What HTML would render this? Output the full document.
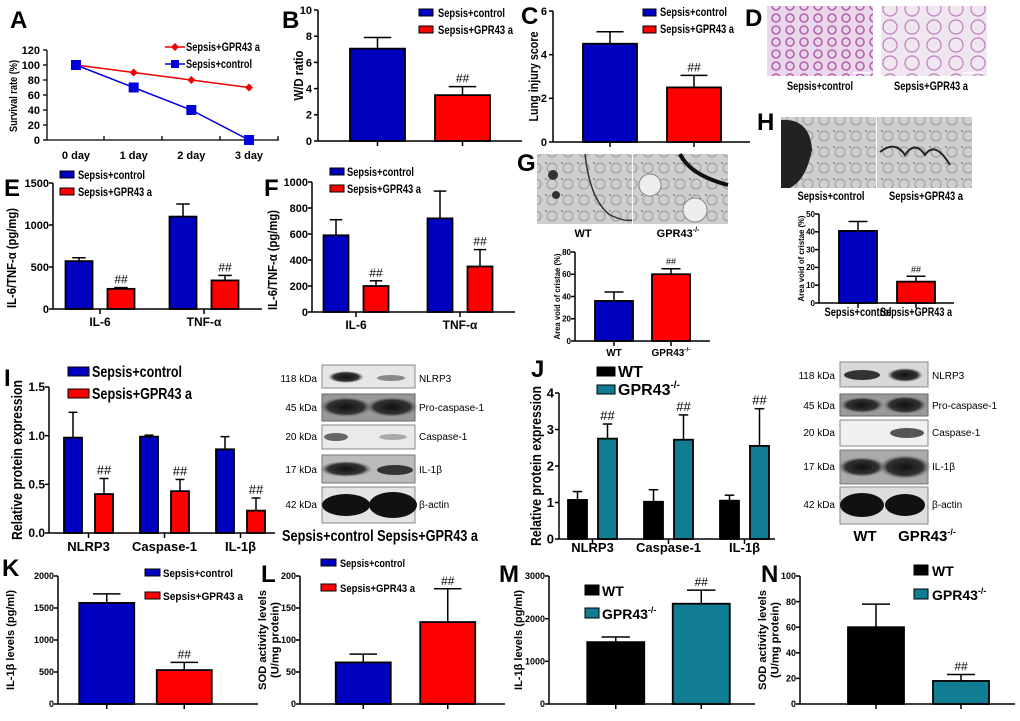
<!DOCTYPE html>
<html><head><meta charset="utf-8">
<style>
html,body{margin:0;padding:0;background:#fff;}
svg{display:block;font-family:"Liberation Sans",Arial,sans-serif;}
.b{font-weight:bold;}
</style></head>
<body>
<svg id="fig" width="1020" height="721" viewBox="0 0 1020 721">
<defs>
<pattern id="lung" width="14" height="12" patternUnits="userSpaceOnUse"><rect width="14" height="12" fill="#e8d8ea"/><circle cx="6" cy="6" r="4" fill="none" stroke="#b860b0" stroke-width="1.6"/></pattern>
<pattern id="lung2" width="22" height="18" patternUnits="userSpaceOnUse"><rect width="22" height="18" fill="#efe6f0"/><circle cx="10" cy="9" r="7" fill="none" stroke="#c080c0" stroke-width="1.2"/></pattern>
<pattern id="em" width="16" height="16" patternUnits="userSpaceOnUse"><rect width="16" height="16" fill="#cfcfcf"/><circle cx="8" cy="8" r="5" fill="none" stroke="#999" stroke-width="1"/><circle cx="2" cy="3" r="1" fill="#888"/></pattern>
<radialGradient id="band"><stop offset="0" stop-color="#111"/><stop offset="0.7" stop-color="#333"/><stop offset="1" stop-color="#777" stop-opacity="0"/></radialGradient>
</defs>

<g class="b" font-size="24">
<text x="10" y="28">A</text>
<text x="282" y="28">B</text>
<text x="521" y="24">C</text>
<text x="745" y="26">D</text>
<text x="4" y="196">E</text>
<text x="264" y="196">F</text>
<text x="517" y="171">G</text>
<text x="757" y="130">H</text>
<text x="4" y="386">I</text>
<text x="531" y="377">J</text>
<text x="2" y="576">K</text>
<text x="261" y="582">L</text>
<text x="499" y="582">M</text>
<text x="761" y="582">N</text>
</g>

<g class="b" font-size="12">
<line x1="165" y1="47" x2="185" y2="47" stroke="#e00" stroke-width="1.5"/><path d="M175 43 L179 47 L175 51 L171 47Z" fill="#e00"/>
<text x="186" y="51" textLength="74" lengthAdjust="spacingAndGlyphs">Sepsis+GPR43 a</text>
<line x1="165" y1="64" x2="185" y2="64" stroke="#00d" stroke-width="1.5"/><rect x="171" y="60" width="8" height="8" fill="#00d"/>
<text x="186" y="68" textLength="66" lengthAdjust="spacingAndGlyphs">Sepsis+control</text>
</g>
<g class="b" font-size="12">
<rect x="419" y="9" width="14" height="7" fill="#0000c0" stroke="#000"/><text x="438" y="17" textLength="67" lengthAdjust="spacingAndGlyphs">Sepsis+control</text>
<rect x="419" y="26" width="14" height="7" fill="#f00" stroke="#000"/><text x="438" y="34" textLength="75" lengthAdjust="spacingAndGlyphs">Sepsis+GPR43 a</text>
</g>
<g class="b" font-size="12">
<rect x="643" y="9" width="13" height="7" fill="#0000c0" stroke="#000"/><text x="660" y="16" textLength="67" lengthAdjust="spacingAndGlyphs">Sepsis+control</text>
<rect x="643" y="26" width="13" height="7" fill="#f00" stroke="#000"/><text x="660" y="33" textLength="74" lengthAdjust="spacingAndGlyphs">Sepsis+GPR43 a</text>
</g>
<g class="b" font-size="12">
<rect x="60" y="171" width="14" height="7" fill="#0000c0" stroke="#000"/><text x="78" y="179" textLength="67" lengthAdjust="spacingAndGlyphs">Sepsis+control</text>
<rect x="60" y="188" width="14" height="7" fill="#f00" stroke="#000"/><text x="78" y="196" textLength="74" lengthAdjust="spacingAndGlyphs">Sepsis+GPR43 a</text>
</g>
<g class="b" font-size="12">
<rect x="330" y="168" width="14" height="7" fill="#0000c0" stroke="#000"/><text x="347" y="176" textLength="67" lengthAdjust="spacingAndGlyphs">Sepsis+control</text>
<rect x="330" y="185" width="14" height="7" fill="#f00" stroke="#000"/><text x="347" y="193" textLength="74" lengthAdjust="spacingAndGlyphs">Sepsis+GPR43 a</text>
</g>
<g class="b" font-size="16">
<rect x="68" y="367" width="21" height="9" fill="#0000c0" stroke="#000"/><text x="92" y="377" textLength="90" lengthAdjust="spacingAndGlyphs">Sepsis+control</text>
<rect x="68" y="389" width="21" height="9" fill="#f00" stroke="#000"/><text x="92" y="399" textLength="100" lengthAdjust="spacingAndGlyphs">Sepsis+GPR43 a</text>
</g>
<g class="b" font-size="16">
<rect x="597" y="367" width="18" height="9" fill="#000" stroke="#000"/><text x="618" y="377">WT</text>
<rect x="597" y="385" width="18" height="9" fill="#117d93" stroke="#000"/><text x="618" y="395">GPR43<tspan font-size="10" dy="-7">-/-</tspan></text>
</g>
<g class="b" font-size="11">
<rect x="145" y="569" width="15" height="7" fill="#0000c0" stroke="#000"/><text x="163" y="577" textLength="70" lengthAdjust="spacingAndGlyphs">Sepsis+control</text>
<rect x="145" y="592" width="15" height="7" fill="#f00" stroke="#000"/><text x="163" y="600" textLength="80" lengthAdjust="spacingAndGlyphs">Sepsis+GPR43 a</text>
</g>
<g class="b" font-size="11">
<rect x="321" y="559" width="15" height="7" fill="#0000c0" stroke="#000"/><text x="340" y="567" textLength="65" lengthAdjust="spacingAndGlyphs">Sepsis+control</text>
<rect x="321" y="584" width="15" height="7" fill="#f00" stroke="#000"/><text x="340" y="592" textLength="75" lengthAdjust="spacingAndGlyphs">Sepsis+GPR43 a</text>
</g>
<g class="b" font-size="14">
<rect x="585" y="585" width="14" height="10" fill="#000" stroke="#000"/><text x="602" y="596">WT</text>
<rect x="585" y="608" width="14" height="10" fill="#117d93" stroke="#000"/><text x="602" y="619">GPR43<tspan font-size="9" dy="-6">-/-</tspan></text>
</g>
<g class="b" font-size="14">
<rect x="914" y="565" width="14" height="10" fill="#000" stroke="#000"/><text x="932" y="576">WT</text>
<rect x="914" y="589" width="14" height="10" fill="#117d93" stroke="#000"/><text x="932" y="600">GPR43<tspan font-size="9" dy="-6">-/-</tspan></text>
</g>

<g>
<rect x="767" y="6" width="106" height="70" fill="url(#lung)"/>
<rect x="881" y="6" width="106" height="70" fill="url(#lung2)"/>
<line x1="853" y1="73" x2="871" y2="73" stroke="#fff" stroke-width="1.5"/>
<line x1="963" y1="73" x2="984" y2="73" stroke="#fff" stroke-width="1.5"/>
<text class="b" font-size="12" x="820" y="90" text-anchor="middle" textLength="66" lengthAdjust="spacingAndGlyphs">Sepsis+control</text>
<text class="b" font-size="12" x="931" y="90" text-anchor="middle" textLength="74" lengthAdjust="spacingAndGlyphs">Sepsis+GPR43 a</text>
</g>
<g>
<rect x="537" y="154" width="95" height="70" fill="url(#em)"/>
<rect x="633" y="154" width="95" height="70" fill="url(#em)"/>
<path d="M585 154 Q590 200 610 215 Q625 222 632 220" fill="none" stroke="#333" stroke-width="1.5"/>
<circle cx="553" cy="175" r="5" fill="#333"/><circle cx="556" cy="195" r="4" fill="#333"/>
<path d="M680 154 Q690 175 728 185" fill="none" stroke="#111" stroke-width="4"/>
<circle cx="650" cy="185" r="11" fill="#eee" stroke="#888"/><circle cx="695" cy="210" r="12" fill="#eee" stroke="#888"/>
<text class="b" font-size="11" x="583" y="237" text-anchor="middle">WT</text>
<text class="b" font-size="11" x="678" y="237" text-anchor="middle">GPR43<tspan font-size="7" dy="-5">-/-</tspan></text>
</g>
<g>
<rect x="781" y="117" width="95" height="71" fill="url(#em)"/>
<rect x="877" y="117" width="95" height="71" fill="url(#em)"/>
<path d="M781 120 Q810 118 812 150 Q806 180 790 188 L781 188Z" fill="#222"/>
<path d="M880 152 Q895 140 905 155 Q915 140 925 155 Q935 140 950 165" fill="none" stroke="#222" stroke-width="2"/>
<text class="b" font-size="12" x="831" y="200" text-anchor="middle" textLength="67" lengthAdjust="spacingAndGlyphs">Sepsis+control</text>
<text class="b" font-size="12" x="926" y="200" text-anchor="middle" textLength="74" lengthAdjust="spacingAndGlyphs">Sepsis+GPR43 a</text>
</g>

<g font-size="10">
<rect x="322" y="365" width="93" height="23" fill="#e6e6e6" stroke="#888"/>
<ellipse cx="346" cy="377" rx="18" ry="6" fill="url(#band)"/><ellipse cx="391" cy="378" rx="14" ry="3" fill="#888"/>
<rect x="322" y="394" width="93" height="27" fill="#999" stroke="#666"/>
<ellipse cx="346" cy="407" rx="26" ry="10" fill="url(#band)"/><ellipse cx="392" cy="407" rx="26" ry="10" fill="url(#band)"/>
<rect x="322" y="425" width="93" height="24" fill="#eaeaea" stroke="#888"/>
<ellipse cx="336" cy="437" rx="12" ry="4" fill="#666"/><ellipse cx="393" cy="437" rx="14" ry="3" fill="#aaa"/>
<rect x="322" y="455" width="93" height="28" fill="#bbb" stroke="#777"/>
<ellipse cx="346" cy="469" rx="26" ry="8" fill="url(#band)"/><ellipse cx="395" cy="470" rx="18" ry="5" fill="#333"/>
<rect x="322" y="487" width="93" height="36" fill="#e4e4e4" stroke="#888"/>
<ellipse cx="346" cy="505" rx="24" ry="11" fill="#111"/><ellipse cx="393" cy="505" rx="24" ry="13" fill="#111"/>
<text x="317" y="382" text-anchor="end">118 kDa</text><text x="317" y="411" text-anchor="end">45 kDa</text>
<text x="317" y="440" text-anchor="end">20 kDa</text><text x="317" y="473" text-anchor="end">17 kDa</text>
<text x="317" y="508" text-anchor="end">42 kDa</text>
<text x="419" y="382">NLRP3</text><text x="419" y="411">Pro-caspase-1</text><text x="419" y="440">Caspase-1</text>
<text x="419" y="473">IL-1β</text><text x="419" y="508">β-actin</text>
<text class="b" font-size="16" x="282" y="541" textLength="196" lengthAdjust="spacingAndGlyphs">Sepsis+control  Sepsis+GPR43 a</text>
</g>
<g font-size="10">
<rect x="840" y="362" width="88" height="25" fill="#d8d8d8" stroke="#888"/>
<ellipse cx="862" cy="375" rx="18" ry="5" fill="#333"/><ellipse cx="905" cy="375" rx="18" ry="7" fill="url(#band)"/>
<rect x="840" y="394" width="88" height="22" fill="#999" stroke="#666"/>
<ellipse cx="862" cy="405" rx="22" ry="8" fill="url(#band)"/><ellipse cx="905" cy="405" rx="22" ry="9" fill="url(#band)"/>
<rect x="840" y="420" width="88" height="26" fill="#f0f0f0" stroke="#888"/>
<ellipse cx="907" cy="433" rx="17" ry="5" fill="#555"/>
<rect x="840" y="450" width="88" height="34" fill="#aaa" stroke="#777"/>
<ellipse cx="862" cy="467" rx="24" ry="10" fill="url(#band)"/><ellipse cx="905" cy="467" rx="26" ry="12" fill="url(#band)"/>
<rect x="840" y="487" width="88" height="37" fill="#ddd" stroke="#888"/>
<ellipse cx="862" cy="505" rx="22" ry="12" fill="#111"/><ellipse cx="905" cy="505" rx="20" ry="11" fill="#111"/>
<text x="835" y="379" text-anchor="end">118 kDa</text><text x="835" y="409" text-anchor="end">45 kDa</text>
<text x="835" y="436" text-anchor="end">20 kDa</text><text x="835" y="470" text-anchor="end">17 kDa</text>
<text x="835" y="508" text-anchor="end">42 kDa</text>
<text x="932" y="379">NLRP3</text><text x="932" y="409">Pro-caspase-1</text><text x="932" y="436">Caspase-1</text>
<text x="932" y="470">IL-1β</text><text x="932" y="508">β-actin</text>
<text class="b" font-size="15" x="865" y="541" text-anchor="middle">WT</text>
<text class="b" font-size="15" x="927" y="541" text-anchor="middle">GPR43<tspan font-size="9" dy="-6">-/-</tspan></text>
</g>
</svg>
<script>
// ---- data ----
const aCats=['0 day','1 day','2 day','3 day'];
const aRed=[100,90,80,70];
const aBlue=[100,70,40,0];
const aTicks=[0,20,40,60,80,100,120];

const bCats=['Sepsis+control','Sepsis+GPR43 a'];
const bVals=[7.05,3.5];
const bErrs=[0.85,0.65];
const bTicks=[0,2,4,6,8,10];

const cVals=[4.5,2.5];
const cErrs=[0.55,0.55];
const cTicks=[0,2,4,6];

const eCats=['IL-6','TNF-α'];
const eCtrl=[570,1100];
const eCtrlErr=[40,150];
const eAgon=[240,340];
const eAgonErr=[15,60];
const eTicks=[0,500,1000,1500];

const fCtrl=[590,720];
const fCtrlErr=[120,210];
const fAgon=[200,350];
const fAgonErr=[40,130];
const fTicks=[0,200,400,600,800,1000];

const gCats=['WT','GPR43-/-'];
const gVals=[36,60];
const gErrs=[8,5];
const gTicks=[0,20,40,60,80];

const hVals=[40.5,12];
const hErrs=[5.3,3];
const hTicks=[0,10,20,30,40,50];

const iCats=['NLRP3','Caspase-1','IL-1β'];
const iCtrl=[0.98,0.99,0.86];
const iCtrlErr=[0.26,0.015,0.13];
const iAgon=[0.40,0.43,0.23];
const iAgonErr=[0.16,0.12,0.13];
const iTicks=['0.0','0.5','1.0','1.5'];

const jWT=[1.07,1.02,1.05];
const jWTErr=[0.23,0.33,0.15];
const jKO=[2.75,2.72,2.55];
const jKOErr=[0.4,0.68,1.02];
const jTicks=[0,1,2,3,4];

const kVals=[1580,530];
const kErrs=[140,120];
const kTicks=[0,500,1000,1500,2000];

const lVals=[65,128];
const lErrs=[13,52];
const lTicks=[0,50,100,150,200];

const mVals=[1450,2350];
const mErrs=[120,320];
const mTicks=[0,1000,2000,3000];

const nVals=[60,18];
const nErrs=[18,5];
const nTicks=[0,20,40,60,80,100];

// ---- drawing ----
const NS='http://www.w3.org/2000/svg';
const svg=document.getElementById('fig');
function mk(tag,attrs,parent){const e=document.createElementNS(NS,tag);for(const k in attrs)e.setAttribute(k,attrs[k]);(parent||svg).appendChild(e);return e;}
const BLUE='#0000c0',RED='#ff0000',BLK='#000000',TEAL='#117d93';

function yTitle(g,lines,x,yc,fs,lens){
  lines.forEach((t,i)=>{
    const xx=x+i*fs*1.15;
    const attrs={x:xx,y:yc,'text-anchor':'middle','font-size':fs,'font-weight':'bold',transform:'rotate(-90 '+xx+' '+yc+')'};
    if(lens&&lens[i]){attrs.textLength=lens[i];attrs.lengthAdjust='spacingAndGlyphs';}
    const tx=mk('text',attrs,g);
    tx.textContent=t;
    
    
  });
}

function drawChart(c){
  const g=mk('g',{});
  
  
  const t0=parseFloat(c.ticks[0]),t1=parseFloat(c.ticks[c.ticks.length-1]);
  const y=v=>c.ybot-(v-t0)/(t1-t0)*(c.ybot-c.ytop);
  const gap=c.gap||6;
  const ya=mk('line',{x1:c.ax,y1:c.ytop,x2:c.ax,y2:c.ybot,stroke:'#000','stroke-width':1.5},g);
  
  
  c.ticks.forEach(tv=>{
    const v=parseFloat(tv);
    const tk=mk('line',{x1:c.ax-4,y1:y(v),x2:c.ax,y2:y(v),stroke:'#000','stroke-width':1.5},g);
    
    
    const tl=mk('text',{x:c.ax-gap,y:y(v)+c.tf*0.35,'text-anchor':'end','font-size':c.tf,'font-weight':'bold'},g);
    tl.textContent=tv;
    
    
  });
  const xa=mk('line',{x1:c.ax,y1:c.ybot,x2:c.axEnd,y2:c.ybot,stroke:'#000','stroke-width':1.5},g);
  
  
  const n=c.cats.length,ns=c.series.length,step=(c.gx1-c.gx0)/n;
  for(let i=0;i<n;i++){
    const cx=c.gx0+(i+0.5)*step;
    const xt=mk('line',{x1:cx,y1:c.ybot,x2:cx,y2:c.ybot+5,stroke:'#000','stroke-width':1.5},g);
    
    
    if(c.catY){
      const la={x:cx,y:c.catY,'text-anchor':'middle','font-size':c.cf,'font-weight':'bold'};
      if(c.catLen){la.textLength=c.catLen[i];la.lengthAdjust='spacingAndGlyphs';}
      const cl=mk('text',la,g);
      const lab=c.cats[i];
      if(lab.indexOf('-/-')>0){cl.textContent='GPR43';const sp=mk('tspan',{'font-size':c.cf*0.65,dy:-c.cf*0.45},cl);sp.textContent='-/-';}
      else cl.textContent=lab;
      
      
    }
    for(let s=0;s<ns;s++){
      const v=c.series[s][i],e=c.errs[s][i];
      const bc=cx+(s-(ns-1)/2)*c.off;
      const col=ns===1?c.colors[i]:c.colors[s];
      const el=mk('line',{x1:bc,y1:y(v),x2:bc,y2:y(v+e),stroke:'#000','stroke-width':1.5},g);
      
      
      const ec=mk('line',{x1:bc-c.bw*0.25,y1:y(v+e),x2:bc+c.bw*0.25,y2:y(v+e),stroke:'#000','stroke-width':1.5},g);
      
      
      const r=mk('rect',{x:bc-c.bw/2,y:y(v),width:c.bw,height:c.ybot-y(v),fill:col,stroke:'#000','stroke-width':1.8},g);
      
      
      const hashed=ns===1?i===1:s===1;
      if(hashed){
        const h=mk('text',{x:bc,y:y(v+e)-4,'text-anchor':'middle','font-size':c.hf||12},g);
        h.textContent='##';
        
        
      }
    }
  }
  yTitle(g,c.title,c.titleX,c.titleY||(c.ytop+c.ybot)/2,c.titleF,c.titleLen);
}

(function(){
  const g=mk('g',{});
  
  
  const ax=47,axEnd=279,ytop=50,ybot=140;
  const y=v=>ybot-v/120*(ybot-ytop);
  const x=i=>76+i*(249-76)/(aCats.length-1);
  const ya=mk('line',{x1:ax,y1:ytop,x2:ax,y2:ybot,stroke:'#000','stroke-width':1.3},g);
  
  
  const xa=mk('line',{x1:ax,y1:ybot,x2:axEnd,y2:ybot,stroke:'#000','stroke-width':1.3},g);
  
  
  aTicks.forEach(v=>{
    const tk=mk('line',{x1:ax-4,y1:y(v),x2:ax,y2:y(v),stroke:'#000','stroke-width':1.3},g);
    
    
    const tl=mk('text',{x:ax-7,y:y(v)+4,'text-anchor':'end','font-size':11,'font-weight':'bold'},g);
    tl.textContent=v;
    
    
  });
  for(let k=1;k<=4;k++){
    const xt=mk('line',{x1:ax+k*(axEnd-ax)/4-1,y1:ybot,x2:ax+k*(axEnd-ax)/4-1,y2:ybot-4,stroke:'#000','stroke-width':1.3},g);
    
    
  }
  aCats.forEach((c,i)=>{
    const tl=mk('text',{x:x(i),y:159,'text-anchor':'middle','font-size':11,'font-weight':'bold'},g);
    tl.textContent=c;
    
    
  });
  const pr=mk('polyline',{points:aRed.map((v,i)=>x(i)+','+y(v)).join(' '),fill:'none',stroke:'#e00','stroke-width':1.5},g);
  
  
  const pb=mk('polyline',{points:aBlue.map((v,i)=>x(i)+','+y(v)).join(' '),fill:'none',stroke:'#00d','stroke-width':1.5},g);
  
  
  aRed.forEach((v,i)=>{
    const m=mk('path',{d:'M'+x(i)+' '+(y(v)-4)+'l4 4l-4 4l-4 -4z',fill:'#e00'},g);
    
    
  });
  aBlue.forEach((v,i)=>{
    const m=mk('rect',{x:x(i)-5,y:y(v)-5,width:10,height:10,fill:'#00d'},g);
    
    
  });
  yTitle(g,['Survival rate (%)'],17,96,11,[72]);
})();

drawChart({name:'panel-b-wd-ratio-chart',cats:bCats,series:[bVals],errs:[bErrs],colors:[BLUE,RED],ticks:bTicks,ax:318,axEnd:522,ytop:10,ybot:141,gx0:335,gx1:505,bw:55,off:0,tf:11,title:['W/D ratio'],titleX:303,titleF:13,titleLen:[50]});
drawChart({name:'panel-c-lung-injury-chart',cats:bCats,series:[cVals],errs:[cErrs],colors:[BLUE,RED],ticks:cTicks,ax:553,axEnd:750,ytop:11,ybot:142,gx0:568,gx1:736,bw:54,off:0,tf:11,title:['Lung injury score'],titleX:538,titleF:13,titleLen:[90]});
drawChart({name:'panel-e-cytokine-chart',cats:eCats,series:[eCtrl,eAgon],errs:[eCtrlErr,eAgonErr],colors:[BLUE,RED],ticks:eTicks,ax:53,axEnd:262,ytop:183,ybot:309,gx0:48,gx1:256,bw:27,off:42,tf:11,gap:4,catY:326,cf:12,title:['IL-6/TNF-α (pg/mg)'],titleX:16,titleY:258,titleF:13,titleLen:[100]});
drawChart({name:'panel-f-cytokine-chart',cats:eCats,series:[fCtrl,fAgon],errs:[fCtrlErr,fAgonErr],colors:[BLUE,RED],ticks:fTicks,ax:312,axEnd:515,ytop:182,ybot:312,gx0:304,gx1:512,bw:25,off:40,tf:11,gap:4,catY:329,cf:12,title:['IL-6/TNF-α (pg/mg)'],titleX:277,titleY:260,titleF:13,titleLen:[100]});
drawChart({name:'panel-g-cristae-chart',cats:gCats,series:[gVals],errs:[gErrs],colors:[BLUE,RED],ticks:gTicks,ax:575,axEnd:710,ytop:252,ybot:341,gx0:585.5,gx1:699.5,bw:38,off:0,tf:8,gap:4,catY:356,cf:10,hf:9,title:['Area void of cristae (%)'],titleX:560,titleF:8,titleLen:[86]});
drawChart({name:'panel-h-cristae-chart',cats:bCats,series:[hVals],errs:[hErrs],colors:[BLUE,RED],ticks:hTicks,ax:819,axEnd:954,ytop:214,ybot:303,gx0:829,gx1:945,bw:38,off:0,tf:8,gap:4,catY:316,cf:12,catLen:[67,72],hf:9,title:['Area void of cristae (%)'],titleX:804,titleF:8,titleLen:[86]});
drawChart({name:'panel-i-protein-chart',cats:iCats,series:[iCtrl,iAgon],errs:[iCtrlErr,iAgonErr],colors:[BLUE,RED],ticks:iTicks,ax:49,axEnd:275,ytop:387,ybot:533,gx0:50.5,gx1:278.5,bw:18,off:31,tf:12,gap:4,catY:551,cf:13,hf:13,title:['Relative protein expression'],titleX:22,titleF:15,titleLen:[160]});
drawChart({name:'panel-j-protein-chart',cats:iCats,series:[jWT,jKO],errs:[jWTErr,jKOErr],colors:[BLK,TEAL],ticks:jTicks,ax:559,axEnd:775,ytop:393,ybot:539,gx0:554.5,gx1:782.5,bw:19,off:30,tf:13,gap:5,catY:552,cf:13,hf:13,title:['Relative protein expression'],titleX:541,titleF:15,titleLen:[160]});
drawChart({name:'panel-k-il1b-chart',cats:bCats,series:[kVals],errs:[kErrs],colors:[BLUE,RED],ticks:kTicks,ax:58,axEnd:258,ytop:576,ybot:704,gx0:68,gx1:223,bw:55,off:0,tf:9,gap:4,title:['IL-1β levels (pg/ml)'],titleX:14,titleF:11,titleLen:[100]});
drawChart({name:'panel-l-sod-chart',cats:bCats,series:[lVals],errs:[lErrs],colors:[BLUE,RED],ticks:lTicks,ax:300,axEnd:505,ytop:576,ybot:704,gx0:321,gx1:490,bw:55,off:0,tf:9,gap:4,title:['SOD activity levels','(U/mg protein)'],titleX:266,titleF:11,titleLen:[100,76]});
drawChart({name:'panel-m-il1b-chart',cats:bCats,series:[mVals],errs:[mErrs],colors:[BLK,TEAL],ticks:mTicks,ax:549,axEnd:755,ytop:576,ybot:704,gx0:573,gx1:744,bw:57,off:0,tf:9,gap:4,title:['IL-1β levels (pg/ml)'],titleX:522,titleF:11,titleLen:[100]});
drawChart({name:'panel-n-sod-chart',cats:bCats,series:[nVals],errs:[nErrs],colors:[BLK,TEAL],ticks:nTicks,ax:800,axEnd:1015,ytop:576,ybot:704,gx0:833.5,gx1:1003.5,bw:56,off:0,tf:9,gap:4,title:['SOD activity levels','(U/mg protein)'],titleX:766,titleF:11,titleLen:[100,76]});
</script>
</body></html>
